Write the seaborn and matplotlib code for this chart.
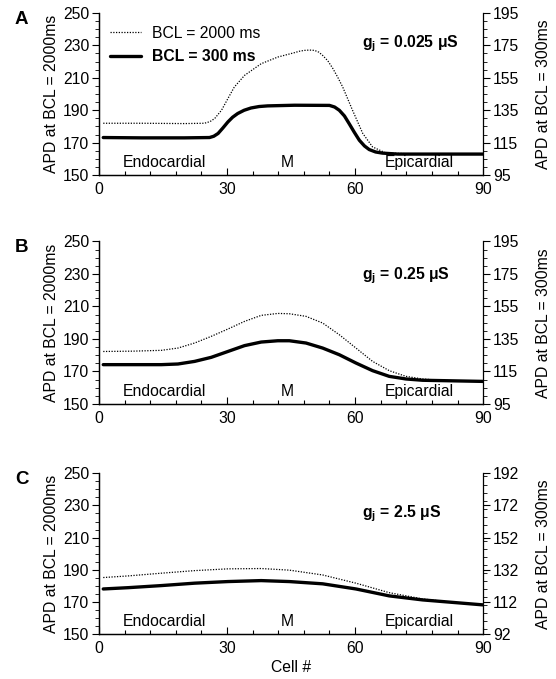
import numpy as np
import pandas as pd
import matplotlib
matplotlib.use("Agg")
import matplotlib.pyplot as plt
import seaborn as sns
from matplotlib.ticker import MultipleLocator

# panel A, gj = 0.025 uS
a_cell_2000 = [1, 10, 20, 24.7, 26, 27.1, 28.7, 30.2, 31.7, 34.1, 38, 41.9, 45.8, 47, 48.1, 49.3, 50.5, 51.5, 52.4, 53.6, 54.8, 56, 57.1, 59.4, 61.8, 64.1, 67.2, 75, 90]
a_apd_2000 = [182, 182, 181.8, 182, 183, 184.9, 190, 197.2, 204.3, 211.5, 218.7, 222.8, 225.5, 226.4, 226.9, 227.1, 226.9, 225.8, 223.8, 220.5, 215.7, 210, 204.3, 190, 175.7, 167.4, 163.7, 163, 163]
a_cell_300 = [1, 10, 20, 25.9, 26.9, 27.9, 29, 30.2, 31.3, 32.5, 34, 35.6, 37.5, 39.5, 45.8, 54, 55.2, 56.3, 57.5, 58.6, 59.8, 61, 62.2, 63.3, 64.8, 66.4, 70, 90]
a_apd_300 = [118.2, 118, 118, 118.2, 119, 120.7, 124, 127.8, 130.7, 133, 135, 136.4, 137.3, 137.7, 138.1, 138, 137, 135, 131.5, 126.8, 121.5, 116.5, 113, 110.8, 109.3, 108.6, 108, 108]

# panel B, gj = 0.25 uS
b_cell_2000 = [1, 8, 14.6, 18.5, 22.4, 26.3, 30.2, 34.1, 38, 41.9, 44.6, 48.5, 52.4, 56.3, 60.2, 64.1, 68, 71.9, 75.8, 79.7, 90]
b_apd_2000 = [182.3, 182.5, 183, 184.4, 187.5, 191.6, 196.1, 200.8, 204.5, 205.7, 205.5, 203.9, 199.8, 192.6, 184.4, 176.2, 170.5, 167, 165.4, 164.6, 163.8]
b_cell_300 = [1, 8, 14.6, 18.5, 22.4, 26.3, 30.2, 34.1, 38, 41.9, 44.6, 48.5, 52.4, 56.3, 60.2, 64.1, 68, 71.9, 75.8, 90]
b_apd_300 = [119.2, 119.2, 119.2, 119.6, 121.2, 123.7, 127.3, 130.9, 133.1, 133.9, 133.9, 132.5, 129.4, 125.3, 120.2, 115.5, 112, 110.4, 109.6, 108.9]

# panel C, gj = 2.5 uS
c_cell_2000 = [1, 6.8, 14.6, 22.4, 30.2, 38, 44.6, 52.4, 60.2, 68, 75.8, 83.6, 90]
c_apd_2000 = [185.2, 186.2, 187.9, 189.5, 190.6, 190.8, 189.8, 186.8, 181.7, 175.8, 171.9, 169.6, 168.2]
c_cell_300 = [1, 6.8, 14.6, 22.4, 30.2, 38, 44.6, 52.4, 60.2, 68, 75.8, 83.6, 90]
c_apd_300 = [120.1, 120.9, 122.2, 123.7, 124.7, 125.3, 124.7, 123.3, 120.1, 115.8, 113.3, 111.6, 110.2]

panel_letters = ["A", "B", "C"]
gj_labels = ["0.025", "0.25", "2.5"]
right_ticks = [[95, 115, 135, 155, 175, 195], [95, 115, 135, 155, 175, 195], [92, 112, 132, 152, 172, 192]]
left_ticks = [150, 170, 190, 210, 230, 250]
x_ticks = [0, 30, 60, 90]

sns.set_style("ticks", rc={"text.color": "black", "axes.labelcolor": "black",
                           "xtick.color": "black", "ytick.color": "black",
                           "axes.edgecolor": "black"})
plt.rcParams["font.family"] = ["Liberation Sans", "DejaVu Sans"]
plt.rcParams["mathtext.fontset"] = "custom"
plt.rcParams["mathtext.rm"] = "Liberation Sans"
plt.rcParams["mathtext.bf"] = "Liberation Sans:bold"
plt.rcParams["mathtext.it"] = "Liberation Sans:italic"

fs = 11.3
fig = plt.figure(figsize=(5.56, 6.79), dpi=100)
boxes = [[0.178, 0.742, 0.691, 0.239], [0.178, 0.405, 0.691, 0.2395], [0.178, 0.066, 0.691, 0.237]]
panels = [(a_cell_2000, a_apd_2000, a_cell_300, a_apd_300),
          (b_cell_2000, b_apd_2000, b_cell_300, b_apd_300),
          (c_cell_2000, c_apd_2000, c_cell_300, c_apd_300)]
gj_y = [231, 229, 225]

for i in range(3):
    ax = fig.add_axes(boxes[i])
    ax2 = ax.twinx()
    c2000, v2000, c300, v300 = panels[i]
    sns.lineplot(x=c2000, y=v2000, ax=ax, color="black", lw=0.9,
                 linestyle=(0, (1, 1.2)), label="BCL = 2000 ms", legend=False)
    sns.lineplot(x=c300, y=v300, ax=ax2, color="black", lw=2.4,
                 label="BCL = 300 ms", legend=False)

    ax.set_xlim(0, 90)
    ax.set_ylim(150, 250)
    ax2.set_ylim(right_ticks[i][0], right_ticks[i][-1])
    ax.set_xticks(x_ticks)
    ax.set_yticks(left_ticks)
    ax2.set_yticks(right_ticks[i])
    ax.xaxis.set_minor_locator(MultipleLocator(6))
    ax.yaxis.set_minor_locator(MultipleLocator(5))
    ax2.yaxis.set_minor_locator(MultipleLocator(5))

    for a in (ax, ax2):
        a.spines["top"].set_visible(False)
        for s in a.spines.values():
            s.set_linewidth(0.9)
    ax.spines["right"].set_visible(False)
    ax.tick_params(axis="x", which="both", direction="in", labelsize=fs, width=0.8)
    ax.tick_params(axis="x", which="major", length=5, pad=5)
    ax.tick_params(axis="x", which="minor", length=3)
    ax.tick_params(axis="y", which="major", length=5, width=0.8, labelsize=fs, pad=2)
    ax.tick_params(axis="y", which="minor", length=3, width=0.6)
    ax2.tick_params(axis="y", which="major", length=5, width=0.8, labelsize=fs, pad=2)
    ax2.tick_params(axis="y", which="minor", length=3, width=0.6)

    ax.set_ylabel("APD at BCL = 2000ms", fontsize=fs, labelpad=3)
    ax2.set_ylabel("APD at BCL = 300ms", fontsize=fs, labelpad=12)
    ax.set_xlabel("Cell #" if i == 2 else "", fontsize=fs, labelpad=3)

    ax.text(5.5, 153, "Endocardial", fontsize=fs, va="bottom")
    ax.text(44, 153, "M", fontsize=fs, va="bottom", ha="center")
    ax.text(75, 153, "Epicardial", fontsize=fs, va="bottom", ha="center")
    ax.text(61.5, gj_y[i], r"$\mathbf{g_j}$ = " + gj_labels[i] + " \u03bcS",
            fontsize=fs, fontweight="bold", va="center")

    fig.text(0.027, boxes[i][1] + boxes[i][3] + 0.003, panel_letters[i],
             fontsize=13.5, fontweight="bold", va="top")

    if i == 0:
        handles = ax.get_lines()[:1] + ax2.get_lines()[:1]
        leg = ax.legend(handles, ["BCL = 2000 ms", "BCL = 300 ms"], loc="upper left",
                        frameon=False, fontsize=fs, handlelength=2.0, handletextpad=0.7,
                        bbox_to_anchor=(0.0, 0.99), borderaxespad=0.3, labelspacing=0.55)
        leg.get_texts()[1].set_fontweight("bold")

fig.savefig("out.png", dpi=100)
